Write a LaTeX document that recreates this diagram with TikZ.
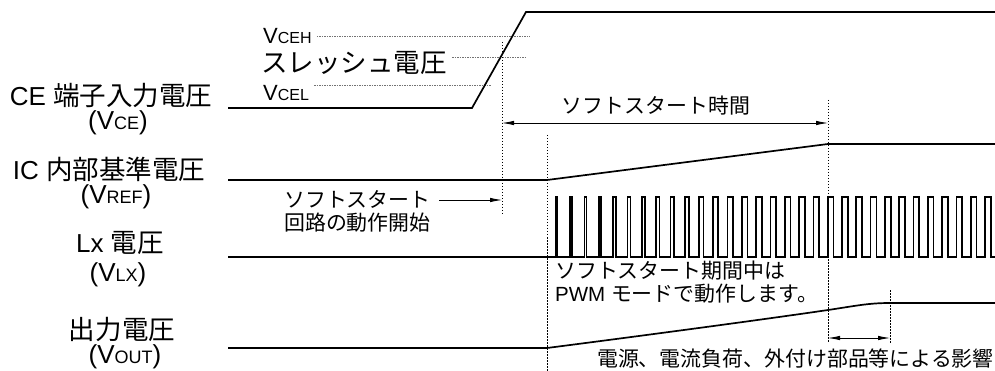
\documentclass[tikz,border=0pt]{standalone}
\usepackage{fontspec}
\setmainfont{Liberation Sans}
\newfontfamily\cjk[Scale=1.02]{Noto Sans CJK JP}
\usetikzlibrary{arrows.meta}
\newcommand\jpt[1]{{\cjk #1}}
\newcommand\bsub[1]{{\fontsize{18}{18}\selectfont #1}}
\newcommand\msub[1]{{\fontsize{16}{16}\selectfont #1}}
\tikzset{
  lab/.style={inner sep=0pt, font=\fontsize{26}{28}\selectfont},
  vlab/.style={inner sep=0pt, font=\fontsize{22}{24}\selectfont},
  mid/.style={inner sep=0pt, font=\fontsize{20.5}{23}\selectfont},
  wave/.style={line width=1.7pt, line join=miter},
  vdot/.style={line width=0.7pt, dash pattern=on 1.5pt off 1.5pt},
  hdot/.style={line width=0.7pt, black!55, dash pattern=on 1.5pt off 1pt},
  dim/.style={line width=0.8pt, {Latex[length=12pt,width=4.5pt]}-{Latex[length=12pt,width=4.5pt]}},
  onearr/.style={line width=0.8pt, -{Latex[length=12pt,width=4.5pt]}}
}
\begin{document}
\begin{tikzpicture}[x=1pt,y=-1pt]
\useasboundingbox (0,0) rectangle (995,371);
\clip (0,0) rectangle (995,371);
% left labels
\node[lab] (ce) at (111,96) {CE \jpt{端子入力電圧}};
\node[lab] (cesub) at (118,123) {(V\bsub{CE})};
\node[lab] (ic) at (109,169) {IC \jpt{内部基準電圧}};
\node[lab] (icsub) at (116,197) {(V\bsub{REF})};
\node[lab] (lx) at (120,243) {Lx \jpt{電圧}};
\node[lab] (lxsub) at (118,275) {(V\bsub{LX})};
\node[lab] (out) at (122,330) {\jpt{出力電圧}};
\node[lab] (outsub) at (125,357) {(V\bsub{OUT})};
% CE threshold labels
\node[vlab,anchor=west] (vceh) at (263,36) {V\msub{CEH}};
\node[lab,anchor=west,text height=17pt,text depth=2pt] (thr) at (261,65) {\jpt{スレッシュ電圧}};
\node[vlab,anchor=west] (vcel) at (263,93) {V\msub{CEL}};
\coordinate (vcehE) at (530,36);
\coordinate (thrE) at (526,57);
\coordinate (vcelE) at (491,85);
\draw[hdot] ([xshift=5pt]vceh.east |- vcehE) -- (vcehE);
\draw[hdot] ([xshift=5pt]thr.east |- thrE) -- (thrE);
\draw[hdot] ([xshift=5pt]vcel.east |- vcelE) -- (vcelE);
% CE waveform
\draw[wave] (228,108) coordinate (ceA) -- (472,108) coordinate (ceB) -- (526,12) coordinate (ceC) -- (995,12);
% vertical dotted lines
\coordinate (t1a) at (502,42); \coordinate (t1b) at (502,215);
\coordinate (t2a) at (547,135); \coordinate (t2b) at (547,371);
\coordinate (t3a) at (828,100); \coordinate (t3b) at (828,343);
\coordinate (t4a) at (890,290); \coordinate (t4b) at (890,343);
\draw[vdot] (t1a) -- (t1b);
\draw[vdot] (t2a) -- (t2b);
\draw[vdot] (t3a) -- (t3b);
\draw[vdot] (t4a) -- (t4b);
% soft start time
\coordinate (ssL) at (502,123); \coordinate (ssR) at (828,123);
\draw[dim] (ssL) -- (ssR);
\node[mid] (sstime) at (656,106) {\jpt{ソフトスタート時間}};
% soft start circuit start
\node[mid,anchor=west,align=left] (sscirc) at (284,211) {\jpt{ソフトスタート}\\\jpt{回路の動作開始}};
\coordinate (ssarrS) at (439,200);
\coordinate (ssarrE) at (502,200);
\draw[onearr] (ssarrS) -- (ssarrE);
% VREF
\draw[wave] (228,180) -- (547,180) -- (828,144) -- (995,144);
% Lx
\draw[wave] (228,257) \foreach \k [evaluate=\k as \w using {min(5.8,1.2+0.33*\k)}] in {0,...,30} {
  -- ({556+14.3*\k},257) -- ++(0,-60) -- ++(\w,0) -- ++(0,60) } -- (1000,257);
\node[mid,anchor=west,align=left] (pwm) at (555,282) {\jpt{ソフトスタート期間中は}\\PWM \jpt{モードで動作します。}};
% VOUT
\draw[wave] (228,348) -- (547,348) .. controls (640,336) and (760,320) .. (828,310) .. controls (855,306) and (868,303) .. (890,303) -- (995,303);
\coordinate (efL) at (828,338); \coordinate (efR) at (890,338);
\draw[dim] (efL) -- (efR);
\node[mid,anchor=east] (eff) at (994,359) {\jpt{電源、電流負荷、外付け部品等による影響}};
\end{tikzpicture}
\end{document}
